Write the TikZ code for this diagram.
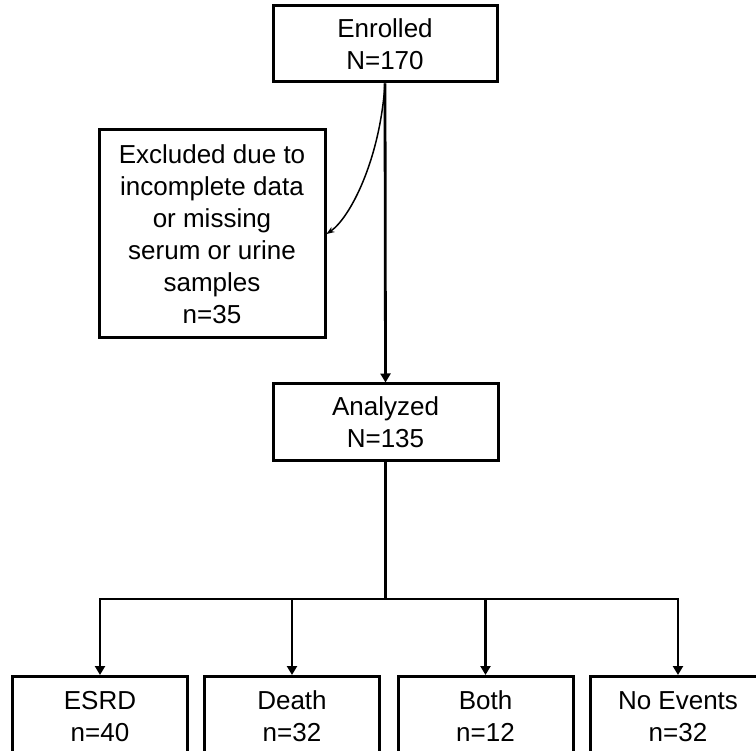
\documentclass[tikz,border=0pt]{standalone}
\usepackage{fontspec}
\setmainfont{Liberation Sans}
\usetikzlibrary{arrows.meta}
\newcommand{\boxfont}{\fontsize{26}{32}\selectfont}
\begin{document}
\begin{tikzpicture}[x=1pt,y=-1pt,
  box/.style={draw, line width=3pt, align=center, inner sep=0pt, font=\boxfont},
  conn/.style={line width=2.8pt, -{Triangle[length=9pt,width=10pt]}},
  curv/.style={line width=1.5pt, -{Stealth[length=8pt,width=6pt]}}]
\useasboundingbox (0,0) rectangle (756,751);
\clip (0,0) rectangle (756,751);
\node[box, minimum width=224pt, minimum height=76pt] (enr) at (385,44) {Enrolled\\N=170};
\node[box, minimum width=226pt, minimum height=208pt] (exc) at (212,234) {Excluded due to\\incomplete data\\or missing\\serum or urine\\samples\\n=35};
\node[box, minimum width=225pt, minimum height=77pt] (ana) at (385.5,422.5) {Analyzed\\N=135};
\node[box, minimum width=175pt, minimum height=80pt, anchor=north] (esrd) at (100,675) {ESRD\\n=40};
\node[box, minimum width=175pt, minimum height=80pt, anchor=north] (death) at (292,675) {Death\\n=32};
\node[box, minimum width=175pt, minimum height=80pt, anchor=north] (both) at (485.5,675) {Both\\n=12};
\node[box, minimum width=175pt, minimum height=80pt, anchor=north] (noev) at (678,675) {No Events\\n=32};
\coordinate (jc) at (385.5,599);
\coordinate (jl) at (esrd.north |- jc);
\coordinate (jr) at (noev.north |- jc);
\draw[conn] (enr.south) -- (ana.north);
\draw[curv] (enr.south) .. controls (380,160) and (350,218) .. (exc.east);
\draw[line width=2.8pt] (ana.south) -- (jc);
\draw[conn] (jr) -- (jl) -- (esrd.north);
\draw[conn] (jl) -- (jr) -- (noev.north);
\draw[conn] (death.north |- jc) -- (death.north);
\draw[conn] (both.north |- jc) -- (both.north);
\end{tikzpicture}
\end{document}
